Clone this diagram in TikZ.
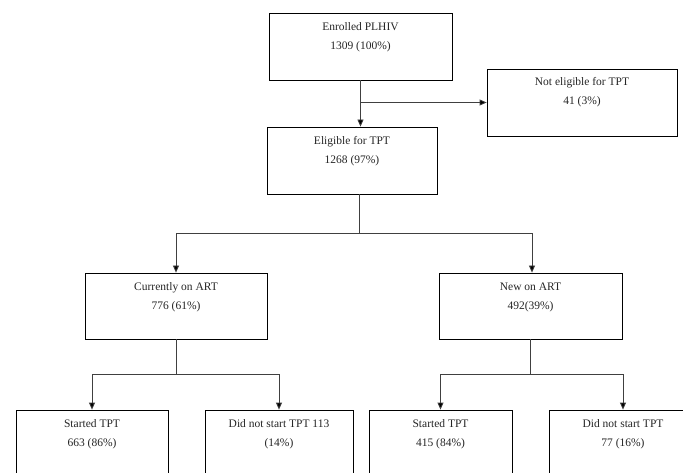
\documentclass[tikz,border=0pt]{standalone}
\usepackage{fontspec}
\setmainfont{Liberation Serif}
\usetikzlibrary{arrows.meta}
\begin{document}
\begin{tikzpicture}[x=1pt,y=-1pt,
  boxline/.style={draw=black,line width=0.8pt},
  txt/.style={anchor=north,align=center,font=\fontsize{11.5}{19}\selectfont,inner sep=0pt,text=black!85},
  conn/.style={draw=black!75,line width=0.8pt},
  arr/.style={conn,-{Triangle[length=7pt,width=6pt,fill=black]}}]
\clip (0,0) rectangle (683,473);
\fill[white] (0,0) rectangle (683,473);
% boxes
\node[boxline,minimum width=183pt,minimum height=67pt,inner sep=0pt] (enr) at (360.5,46.5) {};
\node[boxline,minimum width=190pt,minimum height=67pt,inner sep=0pt] (nel) at (582,102.5) {};
\node[boxline,minimum width=170pt,minimum height=67pt,inner sep=0pt] (eli) at (352,160.5) {};
\node[boxline,minimum width=182pt,minimum height=66pt,inner sep=0pt] (cur) at (176,306) {};
\node[boxline,minimum width=183pt,minimum height=66pt,inner sep=0pt] (new) at (530.5,306) {};
\node[boxline,minimum width=152pt,minimum height=80pt,inner sep=0pt] (s1) at (92,450) {};
\node[boxline,minimum width=148pt,minimum height=80pt,inner sep=0pt] (d1) at (279,450) {};
\node[boxline,minimum width=143pt,minimum height=80pt,inner sep=0pt] (s2) at (440.5,450) {};
\node[boxline,minimum width=148pt,minimum height=80pt,inner sep=0pt] (d2) at (623,450) {};
% texts
\node[txt] (tenr) at ([yshift=-10pt]enr.north) {Enrolled PLHIV\\1309 (100\%)};
\node[txt] (tnel) at ([yshift=-9pt]nel.north) {Not eligible for TPT\\41 (3\%)};
\node[txt] (teli) at ([yshift=-10pt]eli.north) {Eligible for TPT\\1268 (97\%)};
\node[txt] (tcur) at ([yshift=-10pt]cur.north) {Currently on ART\\776 (61\%)};
\node[txt] (tnew) at ([yshift=-10pt]new.north) {New on ART\\492(39\%)};
\node[txt] (ts1) at ([yshift=-10pt]s1.north) {Started TPT\\663 (86\%)};
\node[txt] (td1) at ([yshift=-10pt]d1.north) {Did not start TPT 113\\(14\%)};
\node[txt] (ts2) at ([yshift=-10pt]s2.north) {Started TPT\\415 (84\%)};
\node[txt] (td2) at ([yshift=-10pt]d2.north) {Did not start TPT\\77 (16\%)};
% connectors
\coordinate (j1) at (enr.south |- nel.west);
\draw[arr] (enr.south) -- (enr.south |- eli.north);
\draw[arr] (j1) -- (nel.west);
\coordinate (j2) at (359,233);
\draw[conn] (359,0 |- eli.south) -- (j2);
\draw[arr] (j2) -| (cur.north);
\draw[arr] (j2) -| ([xshift=1.5pt]new.north);
\coordinate (j3) at (cur.south |- 0,374);
\draw[conn] (cur.south) -- (j3);
\draw[arr] (j3) -| (s1.north);
\draw[arr] (j3) -| (d1.north);
\coordinate (j4) at (new.south |- 0,374);
\draw[conn] (new.south) -- (j4);
\draw[arr] (j4) -| (s2.north);
\draw[arr] (j4) -| (d2.north);
\end{tikzpicture}
\end{document}
